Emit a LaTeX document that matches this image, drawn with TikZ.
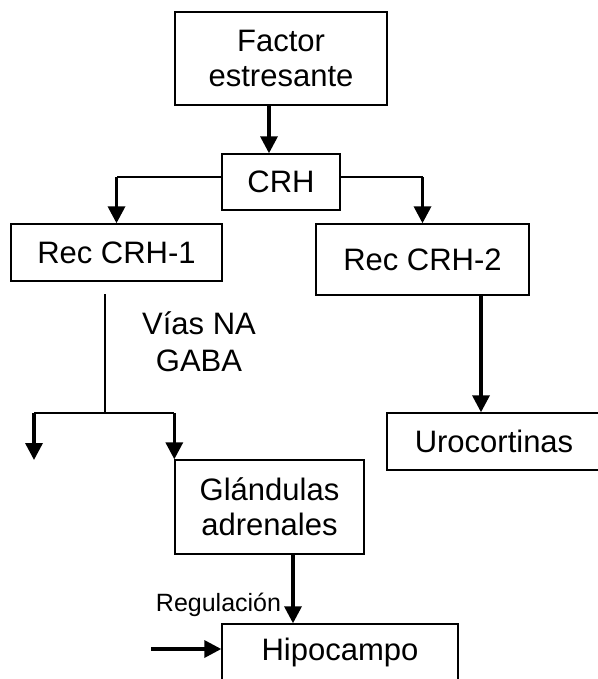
\documentclass[tikz,border=0pt]{standalone}
\usepackage{fontspec}
\setmainfont{Liberation Sans}
\usetikzlibrary{arrows.meta}
\tikzset{
  caja/.style={draw,line width=1.4pt,align=center,inner sep=0pt,
    font=\fontsize{31}{35}\selectfont},
  flecha/.style={line width=3.4pt,-{Triangle[width=17pt,length=17pt]}},
  linea/.style={line width=1.5pt}
}

\begin{document}
\begin{tikzpicture}[x=1pt,y=-1pt]
    \useasboundingbox (0,0) rectangle (597,679);
    \node[caja,minimum width=212pt,minimum height=93pt] (factor) at (281,58.5) {Factor\\estresante};
    \node[caja,minimum width=118pt,minimum height=56pt] (crh) at (281,182) {CRH};
    \node[caja,minimum width=211pt,minimum height=57pt] (rec1) at (116.5,252.5) {Rec CRH-1};
    \node[caja,minimum width=213pt,minimum height=71pt] (rec2) at (422.5,259.5) {Rec CRH-2};
    \node[caja,minimum width=214pt,minimum height=57pt] (uro) at (494,441.5) {Urocortinas};
    \node[caja,minimum width=189pt,minimum height=94pt] (glands) at (269.5,507) {Gl\'andulas\\adrenales};
    \node[caja,minimum width=236pt,minimum height=57pt] (hipo) at (340,652.5) {Hipocampo};
    \node[align=center,inner sep=0pt,font=\fontsize{31}{37}\selectfont] (vias) at (199,342) {V\'ias NA\\GABA};
    \node[anchor=base,inner sep=0pt,font=\fontsize{25}{29}\selectfont] (reg) at (218.5,611) {Regulaci\'on};
    \coordinate (tap) at (105,294);
    \coordinate (split) at (105,413);
    \coordinate (loose) at (34,460);
    \coordinate (inlet) at (151,649);

    \draw[flecha] ([xshift=-12pt]factor.south) -- ([xshift=-12pt]crh.north);
    \foreach \side/\rec in {west/rec1,east/rec2} {
      \draw[linea] ([yshift=5pt]crh.\side) -- ([yshift=5pt]crh.\side -| \rec.north);
      \draw[flecha] ([yshift=5pt]crh.\side -| \rec.north) -- (\rec.north);
     }
    \draw[linea] (tap) -- (split);
    \draw[line width=2.8pt] (split -| loose) -- (split -| glands.north west);
    \draw[flecha] (split -| loose) -- (loose);
    \draw[flecha] (split -| glands.north west) -- (glands.north west);
    \draw[flecha] ([xshift=58.5pt]rec2.south) -- ([xshift=-13pt]uro.north);
    \draw[flecha] ([xshift=23.5pt]glands.south) -- ([xshift=-47pt]hipo.north);
    \draw[flecha] (inlet) -- (inlet -| hipo.west);
\end{tikzpicture}
\end{document}
